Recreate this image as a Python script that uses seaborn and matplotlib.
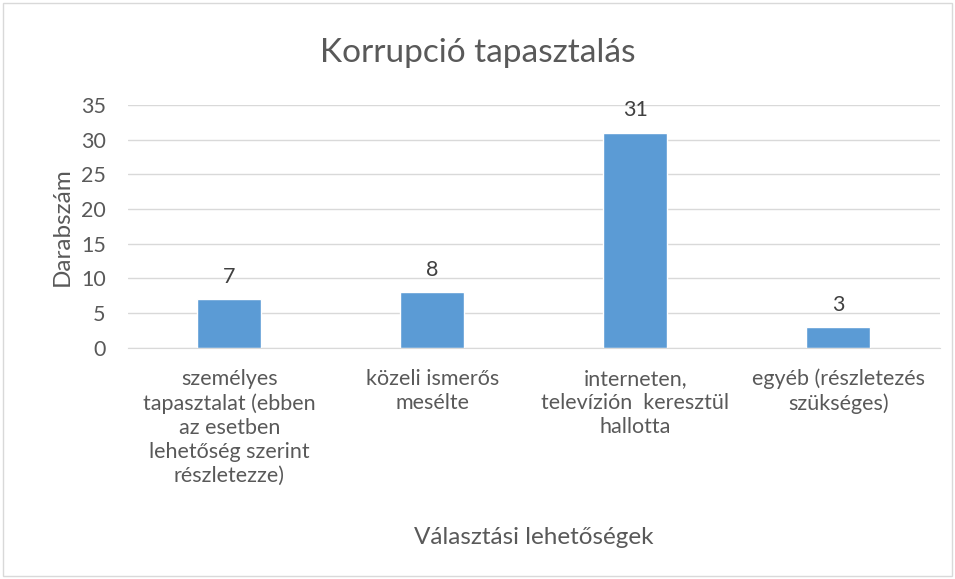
import matplotlib
matplotlib.use("Agg")
import matplotlib.pyplot as plt
import seaborn as sns
import pandas as pd

# Chart data
categories = [
    "személyes\ntapasztalat (ebben\naz esetben\nlehetőség szerint\nrészletezze)",
    "közeli ismerős\nmesélte",
    "interneten,\ntelevízión  keresztül\nhallotta",
    "egyéb (részletezés\nszükséges)",
]
counts = [7, 8, 31, 3]
y_ticks = [0, 5, 10, 15, 20, 25, 30, 35]

df = pd.DataFrame({"kategoria": categories, "darab": counts})

sns.set_style("white")
plt.rcParams["font.family"] = ["Lato", "DejaVu Sans"]

text_color = "#595959"
bar_color = "#5B9BD5"

fig = plt.figure(figsize=(9.55, 5.79), dpi=100)
ax = fig.add_axes([0.134, 0.399, 0.85, 0.42])

sns.barplot(data=df, x="kategoria", y="darab", color=bar_color,
            width=0.315, saturation=1, ax=ax)

# Value labels above bars
for cont in ax.containers:
    ax.bar_label(cont, padding=9, fontsize=15.5, color="#404040")

ax.set_ylim(0, 35)
ax.set_yticks(y_ticks)
ax.yaxis.grid(True, color="#D9D9D9", linewidth=1)
ax.set_axisbelow(True)
for side in ["top", "right", "left"]:
    ax.spines[side].set_visible(False)
ax.spines["bottom"].set_color("#D9D9D9")
ax.tick_params(axis="both", length=0, labelsize=15.5, colors=text_color)
ax.tick_params(axis="x", pad=15)
ax.tick_params(axis="y", pad=16)
for lbl in ax.get_xticklabels():
    lbl.set_linespacing(1.25)

ax.set_xlabel("Választási lehetőségek", fontsize=17.5, color=text_color, labelpad=30)
ax.set_ylabel("Darabszám", fontsize=17.5, color=text_color, labelpad=6)
fig.text(0.5, 0.908, "Korrupció tapasztalás", ha="center", va="center",
         fontsize=24, color=text_color)

# Chart frame
fig.patches.append(plt.Rectangle((0.003, 0.005), 0.994, 0.99, transform=fig.transFigure,
                                 fill=False, edgecolor="#D9D9D9", linewidth=1))

plt.savefig("out.png", dpi=100)
